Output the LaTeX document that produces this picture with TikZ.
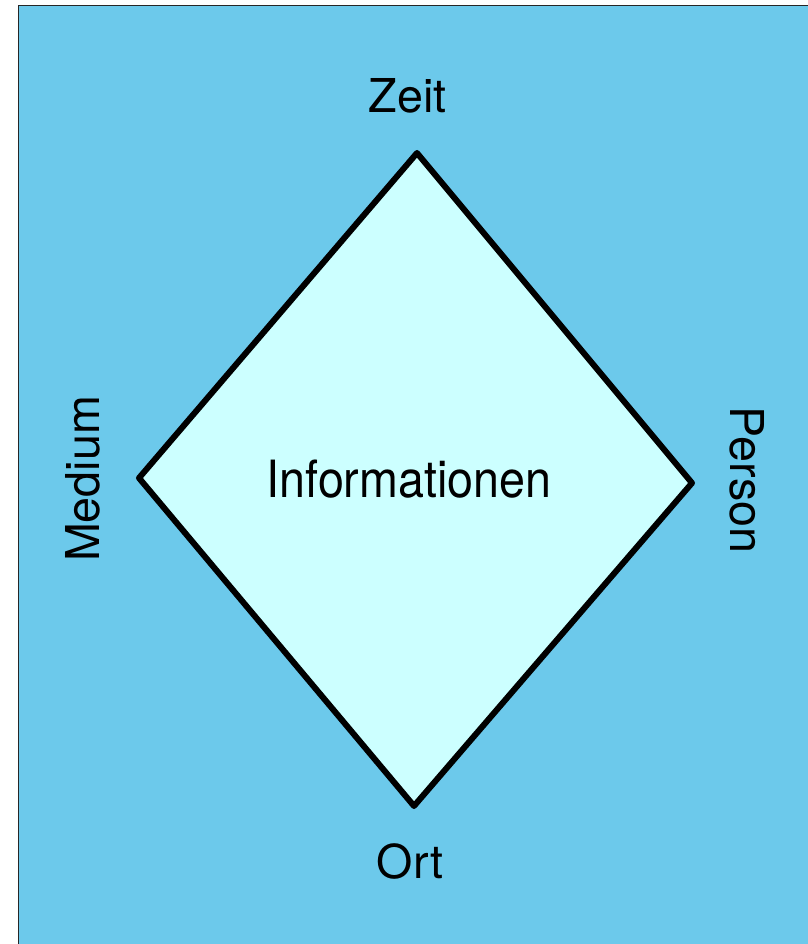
\documentclass[tikz,border=0pt]{standalone}
\usepackage{fontspec}
\setmainfont{TeX Gyre Heros}
\definecolor{skyback}{HTML}{6CC9EB}
\definecolor{paleface}{HTML}{CCFFFF}

\begin{document}
\begin{tikzpicture}[x=0.75pt,y=-0.75pt]

\tikzset{corner/.style = {font=\fontsize{35}{42}\selectfont,inner sep=0pt,anchor=base}}
\tikzset{rim/.style = {draw=black,line width=4.5pt,line join=round,fill=paleface}}
\useasboundingbox (0,0) rectangle (807,944);
% background
\draw[fill=skyback,draw=black!85,line width=0.9pt] (18.5,5.5) rectangle (830,970);

% corners of the diamond
\coordinate (top) at (417,153);
\coordinate (left) at (139,478);
\coordinate (right) at (692,483);
\coordinate (bottom) at (414,806);
\draw[rim] (top) -- (right) -- (bottom) -- (left) -- cycle;

% labels
\node[corner,yscale=1.1] (info) at (409,497.5) {Informationen};
\node[corner] (zeit) at (407.5,113) {Zeit};
\node[corner] (ort) at (410,878) {Ort};
\node[corner,rotate=90] (medium) at (99,479) {Medium};
\node[corner,rotate=-90] (person) at (730,480) {Person};
\end{tikzpicture}
\end{document}
